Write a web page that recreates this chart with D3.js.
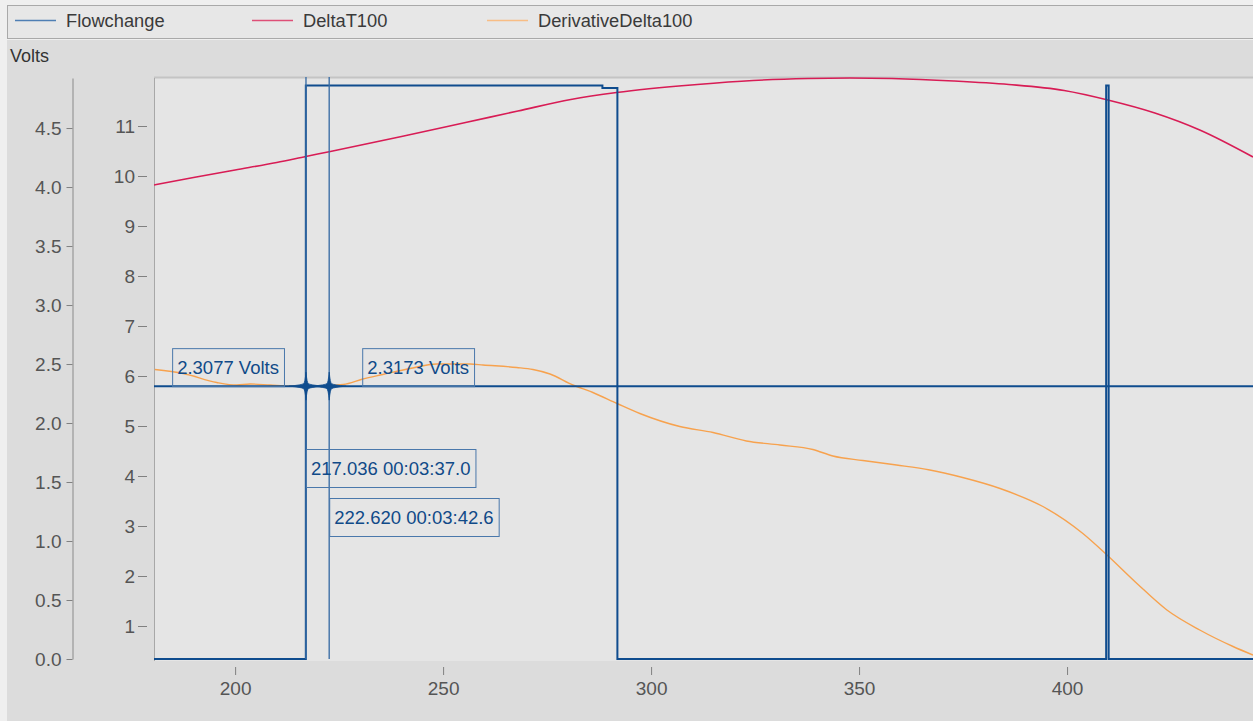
<!DOCTYPE html>
<html>
<head>
<meta charset="utf-8">
<script src="https://cdn.jsdelivr.net/npm/d3@7"></script>
<style>
  html, body { margin: 0; padding: 0; background: #efefef; }
  svg { display: block; font-family: "Liberation Sans", Arial, sans-serif; }
</style>
</head>
<body>
<svg id="chart" width="1253" height="721"></svg>
<script>
// ---- series data ----
const flowX      = [180.5, 217.0, 217.0, 288.3, 288.3, 291.9, 291.9, 409.4, 409.4, 410.0, 410.0, 444.7];
const flowVolts  = [0,     0,     4.86,  4.86,  4.84,  4.84,  0,     0,     4.86,  4.86,  0,     0];

const deltaX = [180.5, 190, 200, 210, 217, 222.9, 240, 255.4, 268, 280.7, 291.7, 311.1, 324.5, 337.7, 347.8, 357.9, 372.8, 386.0, 399.3, 409.8, 421.1, 431.9, 444.7];
const deltaT = [9.82, 9.97, 10.12, 10.27, 10.39, 10.49, 10.79, 11.07, 11.30, 11.53, 11.67, 11.83, 11.91, 11.95, 11.96, 11.95, 11.90, 11.83, 11.71, 11.52, 11.26, 10.92, 10.38];

const derivX = [180.7, 187.5, 195.6, 200.4, 203.6, 208.4, 213.2, 220.4, 226.0, 230.7, 235.5, 242.0, 248.5, 256.5, 259.6, 267.7, 271.6, 275.7, 281.2, 286.0, 291.8, 297.3, 306.9, 314.9, 322.9, 331.0, 338.9, 343.7, 350.9, 359.0, 367.0, 374.9, 383.9, 394.2, 403.8, 409.6, 416.8, 424.0, 431.9, 439.9, 444.7];
const derivV = [6.13, 6.05, 5.87, 5.82, 5.84, 5.82, 5.80, 5.80, 5.83, 5.94, 6.03, 6.15, 6.24, 6.24, 6.22, 6.17, 6.13, 6.04, 5.82, 5.67, 5.45, 5.25, 4.99, 4.87, 4.70, 4.62, 4.53, 4.40, 4.31, 4.22, 4.12, 3.97, 3.75, 3.39, 2.85, 2.42, 1.85, 1.32, 0.92, 0.59, 0.42];

// ---- cursors ----
const cursorX      = [217.036, 222.620];
const cursorTimes  = ["00:03:37.0", "00:03:42.6"];
const cursorLevels = [2.3077, 2.3173];

// ---- axes ticks ----
const xTicks     = [200, 250, 300, 350, 400];
const voltsTicks = [0, 0.5, 1.0, 1.5, 2.0, 2.5, 3.0, 3.5, 4.0, 4.5];
const rightTicks = [1, 2, 3, 4, 5, 6, 7, 8, 9, 10, 11];

const seriesNames  = ["Flowchange", "DeltaT100", "DerivativeDelta100"];
const seriesColors = ["#0f4c8e", "#d81c55", "#f7a24e"];
const legendColors = ["#4f7fb4", "#de4f77", "#f8bd85"];

// ---- layout ----
const W = 1253, H = 721;
const plot = { left: 154, right: 1253, top: 78, bottom: 659 };

const svg = d3.select("#chart");

// panels
svg.append("rect").attr("x", 7).attr("y", 40).attr("width", W - 7).attr("height", H - 40).attr("fill", "#dcdcdc");
svg.append("rect").attr("x", 7.5).attr("y", 5.5).attr("width", W - 7).attr("height", 33)
  .attr("fill", "#e7e7e7").attr("stroke", "#a9a9a9");
svg.append("rect").attr("x", plot.left).attr("y", plot.top).attr("width", plot.right - plot.left)
  .attr("height", plot.bottom - plot.top + 2).attr("fill", "#e5e5e5");
svg.append("line").attr("x1", plot.left).attr("x2", plot.right).attr("y1", plot.top - 0.5).attr("y2", plot.top - 0.5)
  .attr("stroke", "#c4c4c4").attr("stroke-width", 2);
svg.append("line").attr("x1", plot.left + 0.5).attr("x2", plot.left + 0.5).attr("y1", plot.top).attr("y2", plot.bottom + 2)
  .attr("stroke", "#a8a8a8");

// legend
const legendX = [15, 252, 487];
seriesNames.forEach((n, i) => {
  svg.append("line").attr("x1", legendX[i]).attr("x2", legendX[i] + 41).attr("y1", 20.5).attr("y2", 20.5)
    .attr("stroke", legendColors[i]).attr("stroke-width", 1.6);
  svg.append("text").attr("x", legendX[i] + 51).attr("y", 27).attr("font-size", 18.3).attr("fill", "#3a3a3a").text(n);
});

svg.append("text").attr("x", 10).attr("y", 62).attr("font-size", 18).attr("fill", "#333").text("Volts");

// scales
const x  = d3.scaleLinear().domain([180.5, 444.7]).range([plot.left, plot.right]);
const yV = d3.scaleLinear().domain([0, 4.924]).range([plot.bottom, plot.top]);
const yR = d3.scaleLinear().domain([0.34, 11.96]).range([plot.bottom, plot.top]);

// axes
function styleAxis(g) {
  g.selectAll("text").attr("font-size", 19).attr("fill", "#555").attr("font-family", "Liberation Sans, Arial, sans-serif");
  g.selectAll("line").attr("stroke", "#808080");
  g.selectAll(".domain").attr("stroke", "#8a8a8a");
}

svg.append("g").attr("transform", `translate(72.5,0)`)
  .call(d3.axisLeft(yV).tickValues(voltsTicks).tickFormat(d3.format(".1f")).tickSize(6).tickSizeOuter(0).tickPadding(5))
  .call(styleAxis);

svg.append("g").attr("transform", `translate(147,0)`)
  .call(d3.axisLeft(yR).tickValues(rightTicks).tickFormat(d3.format("d")).tickSize(9).tickPadding(3))
  .call(g => g.select(".domain").remove())
  .call(styleAxis);

svg.append("g").attr("transform", `translate(0,667)`)
  .call(d3.axisBottom(x).tickValues(xTicks).tickFormat(d3.format("d")).tickSize(8).tickPadding(7))
  .call(g => g.select(".domain").remove())
  .call(styleAxis);

// clip to plot
svg.append("clipPath").attr("id", "plotClip").append("rect")
  .attr("x", plot.left).attr("y", plot.top - 1).attr("width", plot.right - plot.left).attr("height", plot.bottom - plot.top + 4);
const body = svg.append("g").attr("clip-path", "url(#plotClip)");

const lineR = d3.line().x(d => x(d[0])).y(d => yR(d[1])).curve(d3.curveMonotoneX);
const lineV = d3.line().x(d => x(d[0])).y(d => yV(d[1]));

body.append("path").datum(d3.zip(derivX, derivV)).attr("d", lineR)
  .attr("fill", "none").attr("stroke", seriesColors[2]).attr("stroke-width", 1.4);
body.append("path").datum(d3.zip(deltaX, deltaT)).attr("d", lineR)
  .attr("fill", "none").attr("stroke", seriesColors[1]).attr("stroke-width", 1.6);
body.append("path").datum(d3.zip(flowX, flowVolts)).attr("d", lineV)
  .attr("fill", "none").attr("stroke", seriesColors[0]).attr("stroke-width", 2);

// cursors
const cursorColor = "#0f4c8e";
const levelY = yV(d3.mean(cursorLevels));
cursorX.forEach(cx => {
  body.append("line").attr("x1", x(cx)).attr("x2", x(cx)).attr("y1", plot.top - 1).attr("y2", plot.bottom)
    .attr("stroke", "#3a6da6").attr("stroke-width", 1.5).attr("opacity", 0.9);
});
body.append("line").attr("x1", plot.left).attr("x2", plot.right).attr("y1", levelY).attr("y2", levelY)
  .attr("stroke", cursorColor).attr("stroke-width", 2);

// slim four-point star markers at the cursor crossings
const star = "M0,-14 Q1,-3 2.5,-2.5 Q4,-1.2 17,0 Q4,1.2 2.5,2.5 Q1,3 0,14 Q-1,3 -2.5,2.5 Q-4,1.2 -17,0 Q-4,-1.2 -2.5,-2.5 Q-1,-3 0,-14 Z";
cursorX.forEach(cx => {
  body.append("path").attr("d", star).attr("transform", `translate(${x(cx)},${levelY})`)
    .attr("fill", cursorColor).attr("stroke", cursorColor).attr("stroke-width", 0.8);
});

// value labels
function boxLabel(x0, yTop, txt) {
  const g = svg.append("g");
  const t = g.append("text").attr("x", x0 + 5).attr("y", yTop + 26).attr("font-size", 18.5)
    .attr("fill", "#104a88").text(txt);
  const w = t.node().getComputedTextLength();
  g.insert("rect", "text").attr("x", x0 + 0.5).attr("y", yTop + 0.5).attr("width", w + 10).attr("height", 38)
    .attr("fill", "none").attr("stroke", "#4a78ab").attr("stroke-width", 1);
  return w + 10;
}
// level labels sit above the horizontal cursor, left of the first and right of the second
{
  const tmp = svg.append("text").attr("font-size", 18.5).text(cursorLevels[0].toFixed(4) + " Volts");
  const w0 = tmp.node().getComputedTextLength() + 10;
  tmp.remove();
  boxLabel(x(cursorX[0]) - 22 - w0, levelY - 38, cursorLevels[0].toFixed(4) + " Volts");
  boxLabel(x(cursorX[1]) + 33, levelY - 38, cursorLevels[1].toFixed(4) + " Volts");
}
boxLabel(x(cursorX[0]), 449, cursorX[0].toFixed(3) + " " + cursorTimes[0]);
boxLabel(x(cursorX[1]), 498, cursorX[1].toFixed(3) + " " + cursorTimes[1]);
</script>
</body>
</html>
